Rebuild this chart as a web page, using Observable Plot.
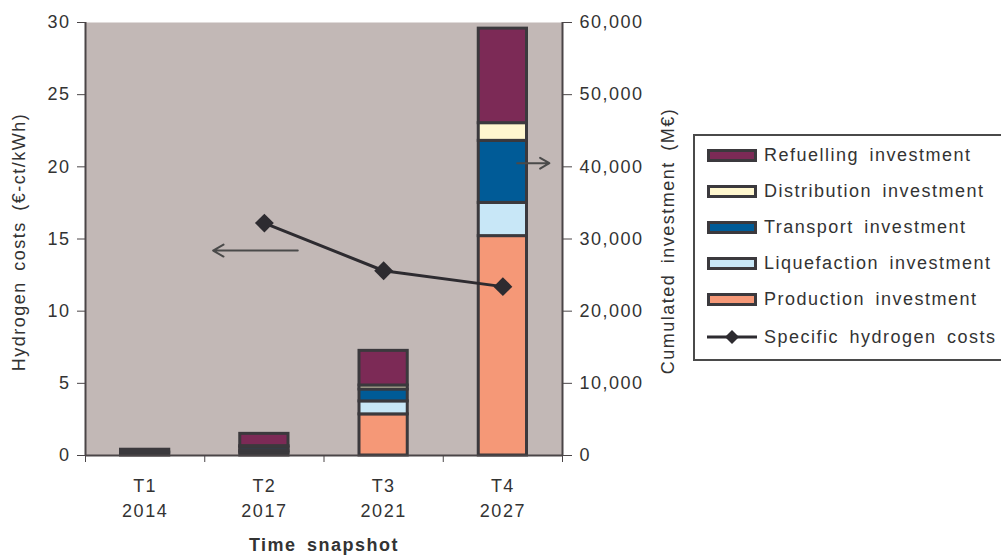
<!DOCTYPE html>
<html>
<head>
<meta charset="utf-8">
<script src="https://cdn.jsdelivr.net/npm/d3@7"></script>
<script src="https://cdn.jsdelivr.net/npm/@observablehq/plot@0.6"></script>
<style>
  body { margin: 0; background: #fff; }
  #wrap { position: relative; width: 1001px; height: 555px; overflow: hidden; font-family: "Liberation Sans", Arial, sans-serif; }
  #wrap svg text { letter-spacing: 1.5px; word-spacing: 4px; }
  #legend { position: absolute; left: 693px; top: 134px; width: 330px; height: 227px; border: 2px solid #4a4a4a; box-sizing: border-box; background: #fff; }
  .row { position: absolute; left: 12px; height: 20px; display: flex; align-items: center; font-size: 18px; color: #333; letter-spacing: 1.5px; word-spacing: 4px; white-space: nowrap; }
  .sw { width: 44px; height: 7px; border: 3px solid #3b393d; margin-right: 7px; }
  .ln { width: 50px; height: 20px; margin-right: 7px; }
</style>
</head>
<body>
<div id="wrap"></div>
<script>
// ---- data ----
const snapshots = ["T1", "T2", "T3", "T4"];
const years = ["2014", "2017", "2021", "2027"];
const series = ["Production investment", "Liquefaction investment", "Transport investment", "Distribution investment", "Refuelling investment"];
const seriesColors = ["#f59877", "#c8e7f7", "#005b97", "#fff7cf", "#7c2a56"];
// cumulated investment, M€ (right axis)
const production   = [400,  400,  5700, 30400];
const liquefaction = [0,    250,  1800,  4600];
const transport    = [0,    450,  1650,  8600];
const distribution = [0,    200,   550,  2450];
const refuelling   = [400, 1700,  4800, 13100];
// specific hydrogen costs, €-ct/kWh (left axis)
const specificCost = [null, 16.1, 12.8, 11.7];
const leftTicks = [0, 5, 10, 15, 20, 25, 30];
const ratio = 2000; // 60,000 M€ on the right axis matches 30 €-ct/kWh on the left
// annotation arrows (pointing to the relevant axis), in data units
const arrowsData = [
  {x1: 1.78, x2: 1.07, y: 14.2},
  {x1: 3.62, x2: 3.89, y: 20.25}
];

// ---- build tables ----
const investment = [production, liquefaction, transport, distribution, refuelling];
const rows = [];
series.forEach((s, k) => snapshots.forEach((t, i) => rows.push({idx: i, snapshot: t, series: s, value: investment[k][i] / ratio})));
const costRows = snapshots.map((t, i) => ({idx: i, cost: specificCost[i]})).filter(d => d.cost != null);

const dark = "#3b393d";
const lineDark = "#2d2b30";
const axisColor = "#4a4547";
const textColor = "#333";

const chart = Plot.plot({
  width: 1001,
  height: 555,
  marginLeft: 85,
  marginRight: 439,
  marginTop: 22,
  marginBottom: 100,
  style: {fontFamily: '"Liberation Sans", Arial, sans-serif', fontSize: "18px", color: textColor, background: "transparent", overflow: "visible"},
  x: {domain: [0, 4], axis: null},
  y: {domain: [0, 30], axis: null},
  color: {domain: series, range: seriesColors},
  marks: [
    Plot.frame({fill: "#c2b8b6", stroke: null}),
    Plot.rectY(rows, {x: "idx", interval: 1, y: "value", fill: "series", stroke: dark, strokeWidth: 3, insetLeft: 35.5, insetRight: 35.5}),
    Plot.line(costRows, {x: d => d.idx + 0.5, y: "cost", stroke: lineDark, strokeWidth: 3}),
    Plot.dot(costRows, {x: d => d.idx + 0.5, y: "cost", symbol: "diamond2", r: 8.5, fill: lineDark, stroke: null}),
    Plot.arrow(arrowsData, {x1: "x1", x2: "x2", y1: "y", y2: "y", stroke: "#4a4a4a", strokeWidth: 2, headLength: 9}),
    Plot.ruleY([0], {stroke: axisColor, strokeWidth: 2}),
    Plot.ruleX([0, 4], {stroke: axisColor, strokeWidth: 2}),
    Plot.axisY({ticks: leftTicks, tickSize: 8, tickPadding: 7, label: null, stroke: axisColor, fill: textColor}),
    Plot.axisY({anchor: "right", ticks: leftTicks, tickSize: 9, tickPadding: 8, label: null, stroke: axisColor, fill: textColor,
                tickFormat: d => d3.format(",")(d * ratio)}),
    Plot.axisX({ticks: [0, 1, 2, 3, 4], tickSize: 7, tickFormat: () => "", label: null, stroke: axisColor}),
    Plot.text(snapshots, {x: (d, i) => i + 0.5, frameAnchor: "bottom", lineAnchor: "middle", dy: 40.5, text: (d, i) => `${d}\n${years[i]}`, lineHeight: 1.39, fill: textColor}),
    Plot.text(["Time snapshot"], {frameAnchor: "bottom", lineAnchor: "middle", dy: 90, fontWeight: "bold", fill: textColor}),
    Plot.text(["Hydrogen costs (€-ct/kWh)"], {frameAnchor: "left", textAnchor: "middle", lineAnchor: "middle", dx: -66, dy: 3, rotate: -90, fill: textColor}),
    Plot.text(["Cumulated investment (M€)"], {frameAnchor: "right", textAnchor: "middle", lineAnchor: "middle", dx: 106, dy: 2, rotate: -90, fill: textColor})
  ]
});

const wrap = document.getElementById("wrap");
wrap.appendChild(chart);

// ---- legend ----
const legend = document.createElement("div");
legend.id = "legend";
const legendOrder = [4, 3, 2, 1, 0];
legendOrder.forEach((k, j) => {
  const row = document.createElement("div");
  row.className = "row";
  row.style.top = (9 + j * 36) + "px";
  const sw = document.createElement("div");
  sw.className = "sw";
  sw.style.background = seriesColors[k];
  row.appendChild(sw);
  row.appendChild(document.createTextNode(series[k]));
  legend.appendChild(row);
});
const lrow = document.createElement("div");
lrow.className = "row";
lrow.style.top = (9 + 5 * 36 + 2) + "px";
lrow.innerHTML = `<svg class="ln" width="50" height="20"><line x1="0" x2="50" y1="10" y2="10" stroke="${lineDark}" stroke-width="3"/><path d="M25,3 L32,10 L25,17 L18,10 Z" fill="${lineDark}"/></svg>`;
lrow.appendChild(document.createTextNode("Specific hydrogen costs"));
legend.appendChild(lrow);
wrap.appendChild(legend);
</script>
</body>
</html>
